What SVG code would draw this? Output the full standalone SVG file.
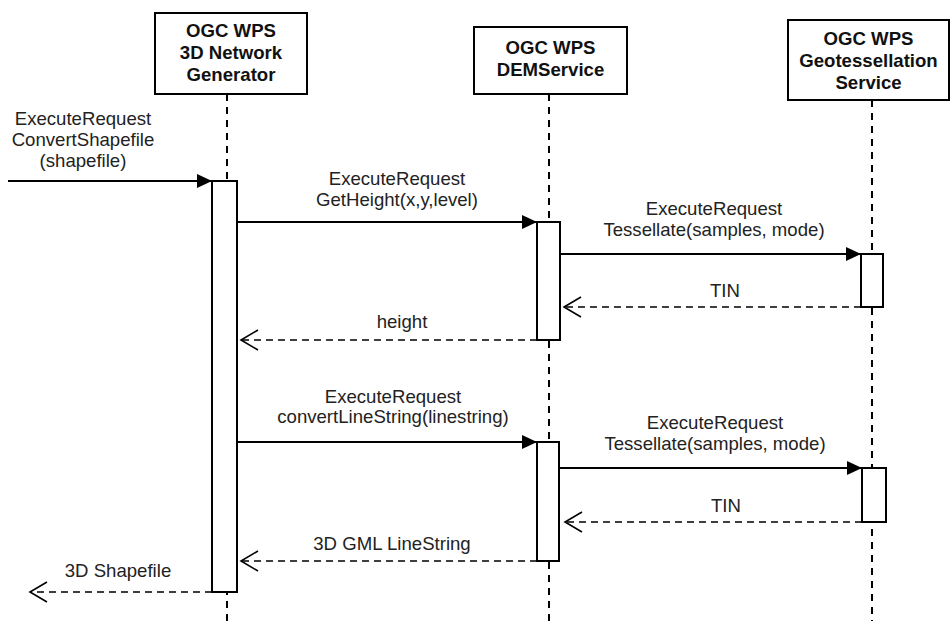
<svg xmlns="http://www.w3.org/2000/svg" width="952" height="621" viewBox="0 0 952 621">
<style>
.box{fill:#fff;stroke:#000;stroke-width:2}
.life{stroke:#000;stroke-width:2;stroke-dasharray:7 6;fill:none}
.act{fill:#fff;stroke:#000;stroke-width:2}
.msg{stroke:#000;stroke-width:2;fill:none}
.ret{stroke:#000;stroke-width:1.6;fill:none;stroke-dasharray:7 5}
.title{font-family:"Liberation Sans",Arial,sans-serif;font-size:18.6px;font-weight:bold;fill:#111;text-anchor:middle}
.lbl{font-family:"Liberation Sans",Arial,sans-serif;font-size:18.6px;fill:#222;text-anchor:middle}
</style>
<defs>
<marker id="fill" markerUnits="userSpaceOnUse" markerWidth="16" markerHeight="14" refX="15" refY="7" orient="auto" overflow="visible">
<path d="M0,0 L15,7 L0,14 z" fill="#000"/>
</marker>
<marker id="open" markerUnits="userSpaceOnUse" markerWidth="18" markerHeight="22" refX="17" refY="10" orient="auto" overflow="visible">
<path d="M0,0 L17,10 L0,20" fill="none" stroke="#000" stroke-width="1.6"/>
</marker>
</defs>
<rect width="952" height="621" fill="#fff"/>
<g id="lifelines">
<line class="life" x1="227" y1="94" x2="227" y2="621"/>
<line class="life" x1="549" y1="94" x2="549" y2="621"/>
<line class="life" x1="872" y1="100" x2="872" y2="621"/>
</g>
<g id="node-network">
<rect class="box" x="155" y="13" width="152" height="81"/>
<text class="title" x="231" y="37">OGC WPS</text>
<text class="title" x="231" y="59">3D Network</text>
<text class="title" x="231" y="81">Generator</text>
</g>
<g id="node-dem">
<rect class="box" x="474" y="27" width="153" height="67"/>
<text class="title" x="550.5" y="54">OGC WPS</text>
<text class="title" x="550.5" y="76">DEMService</text>
</g>
<g id="node-geotess">
<rect class="box" x="788" y="20" width="161" height="80"/>
<text class="title" x="868.5" y="45">OGC WPS</text>
<text class="title" x="868.5" y="67">Geotessellation</text>
<text class="title" x="868.5" y="89">Service</text>
</g>
<g id="activations">
<rect class="act" x="212" y="181" width="25" height="411"/>
<rect class="act" x="537" y="222" width="23" height="118"/>
<rect class="act" x="861" y="254" width="22" height="53"/>
<rect class="act" x="537" y="442" width="22" height="119"/>
<rect class="act" x="862" y="468" width="24" height="54"/>
</g>
<g id="connectors">
<line class="msg" x1="8" y1="181" x2="212" y2="181" marker-end="url(#fill)"/>
<line class="msg" x1="237" y1="222" x2="537" y2="222" marker-end="url(#fill)"/>
<line class="msg" x1="560" y1="254" x2="861" y2="254" marker-end="url(#fill)"/>
<line class="ret" x1="861" y1="307" x2="564" y2="307" marker-end="url(#open)"/>
<line class="ret" x1="537" y1="340" x2="241" y2="340" marker-end="url(#open)"/>
<line class="msg" x1="237" y1="442" x2="537" y2="442" marker-end="url(#fill)"/>
<line class="msg" x1="559" y1="468" x2="862" y2="468" marker-end="url(#fill)"/>
<line class="ret" x1="862" y1="522" x2="565" y2="522" marker-end="url(#open)"/>
<line class="ret" x1="537" y1="561" x2="241" y2="561" marker-end="url(#open)"/>
<line class="ret" x1="212" y1="592" x2="30" y2="592" marker-end="url(#open)"/>
</g>
<g id="labels">
<text class="lbl" x="83" y="125">ExecuteRequest</text>
<text class="lbl" x="83" y="146">ConvertShapefile</text>
<text class="lbl" x="83" y="167">(shapefile)</text>
<text class="lbl" x="397" y="185">ExecuteRequest</text>
<text class="lbl" x="397" y="206">GetHeight(x,y,level)</text>
<text class="lbl" x="714" y="215">ExecuteRequest</text>
<text class="lbl" x="714" y="236">Tessellate(samples, mode)</text>
<text class="lbl" x="725" y="297">TIN</text>
<text class="lbl" x="402" y="328">height</text>
<text class="lbl" x="393" y="403">ExecuteRequest</text>
<text class="lbl" x="393" y="423">convertLineString(linestring)</text>
<text class="lbl" x="715" y="429">ExecuteRequest</text>
<text class="lbl" x="715" y="450">Tessellate(samples, mode)</text>
<text class="lbl" x="726" y="512">TIN</text>
<text class="lbl" x="392" y="550">3D GML LineString</text>
<text class="lbl" x="118" y="577">3D Shapefile</text>
</g>
</svg>
